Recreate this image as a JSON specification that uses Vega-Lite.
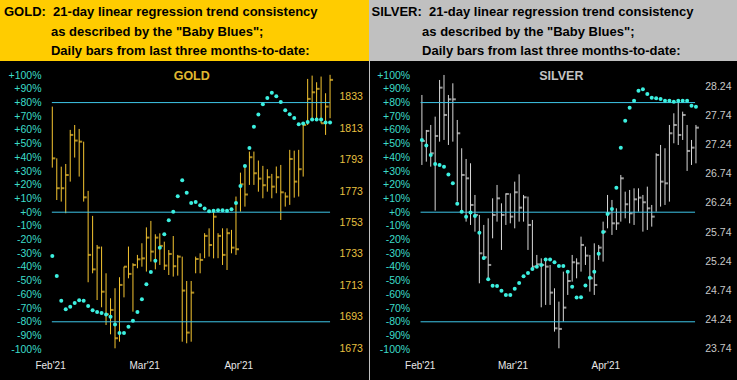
{
"$schema": "https://vega.github.io/schema/vega-lite/v6.json",
"background": "#C0C0C0",
"padding": 0,
"spacing": 1,
"config": {"view": {"stroke": null}, "axis": {"grid": false, "domain": false, "ticks": false, "labelFont": "Liberation Sans", "labelOverlap": false, "labelFlush": false}},
"datasets": {
"gold": [
{"d":0,"hi":1826.7,"lo":1787.9,"c":1793.8,"bb":-31.9},
{"d":1,"hi":1793.8,"lo":1767.3,"c":1774.8,"bb":-46.5},
{"d":2,"hi":1788.5,"lo":1766.3,"c":1774.8,"bb":-64.7},
{"d":3,"hi":1790.2,"lo":1758.9,"c":1783.2,"bb":-70.8},
{"d":4,"hi":1811.9,"lo":1779.0,"c":1808.7,"bb":-69.1},
{"d":5,"hi":1815.0,"lo":1794.3,"c":1805.1,"bb":-66.2},
{"d":6,"hi":1812.5,"lo":1782.2,"c":1804.4,"bb":-64.2},
{"d":7,"hi":1804.4,"lo":1766.3,"c":1769.0,"bb":-64.7},
{"d":8,"hi":1773.1,"lo":1715.0,"c":1732.4,"bb":-68.4},
{"d":9,"hi":1757.2,"lo":1720.7,"c":1723.2,"bb":-71.5},
{"d":10,"hi":1738.7,"lo":1703.7,"c":1737.0,"bb":-72.8},
{"d":11,"hi":1737.7,"lo":1699.1,"c":1709.0,"bb":-73.5},
{"d":12,"hi":1720.7,"lo":1687.8,"c":1694.6,"bb":-74.7},
{"d":13,"hi":1704.8,"lo":1681.9,"c":1697.4,"bb":-76.4},
{"d":14,"hi":1711.2,"lo":1673.0,"c":1679.4,"bb":-82.0},
{"d":15,"hi":1718.2,"lo":1677.2,"c":1713.3,"bb":-88.1},
{"d":16,"hi":1724.9,"lo":1705.4,"c":1724.9,"bb":-88.1},
{"d":17,"hi":1737.7,"lo":1717.5,"c":1720.3,"bb":-83.7},
{"d":18,"hi":1727.1,"lo":1696.3,"c":1726.0,"bb":-79.3},
{"d":19,"hi":1732.4,"lo":1723.9,"c":1729.6,"bb":-72.8},
{"d":20,"hi":1739.8,"lo":1724.9,"c":1730.2,"bb":-63.5},
{"d":21,"hi":1749.9,"lo":1721.8,"c":1743.4,"bb":-52.6},
{"d":22,"hi":1754.0,"lo":1728.1,"c":1734.5,"bb":-43.6},
{"d":23,"hi":1745.5,"lo":1723.2,"c":1743.4,"bb":-35.5},
{"d":24,"hi":1746.1,"lo":1726.0,"c":1738.1,"bb":-26.0},
{"d":25,"hi":1740.8,"lo":1722.8,"c":1725.6,"bb":-16.1},
{"d":26,"hi":1735.5,"lo":1719.6,"c":1733.0,"bb":-5.8},
{"d":27,"hi":1744.4,"lo":1718.6,"c":1725.2,"bb":0.3},
{"d":28,"hi":1732.4,"lo":1719.2,"c":1731.3,"bb":11.7},
{"d":29,"hi":1731.3,"lo":1677.2,"c":1709.7,"bb":23.4},
{"d":30,"hi":1715.8,"lo":1676.2,"c":1683.0,"bb":14.1},
{"d":31,"hi":1715.8,"lo":1677.2,"c":1708.4,"bb":6.8},
{"d":32,"hi":1731.3,"lo":1720.7,"c":1729.8,"bb":7.5},
{"d":33,"hi":1733.4,"lo":1720.7,"c":1729.2,"bb":5.1},
{"d":34,"hi":1746.2,"lo":1730.3,"c":1744.5,"bb":2.7},
{"d":35,"hi":1749.3,"lo":1731.3,"c":1738.7,"bb":0.7},
{"d":36,"hi":1759.9,"lo":1730.2,"c":1756.7,"bb":1.0},
{"d":37,"hi":1746.2,"lo":1730.3,"c":1744.5,"bb":1.5},
{"d":38,"hi":1749.3,"lo":1726.0,"c":1732.4,"bb":1.5},
{"d":39,"hi":1749.3,"lo":1722.8,"c":1746.2,"bb":1.0},
{"d":40,"hi":1748.3,"lo":1733.4,"c":1737.0,"bb":2.2},
{"d":41,"hi":1769.5,"lo":1732.4,"c":1736.0,"bb":6.8},
{"d":42,"hi":1784.7,"lo":1759.9,"c":1777.3,"bb":19.2},
{"d":43,"hi":1789.0,"lo":1763.1,"c":1770.8,"bb":33.8},
{"d":44,"hi":1798.1,"lo":1776.9,"c":1794.5,"bb":46.9},
{"d":45,"hi":1798.1,"lo":1776.9,"c":1784.3,"bb":62.3},
{"d":46,"hi":1792.4,"lo":1772.6,"c":1780.9,"bb":71.3},
{"d":47,"hi":1789.0,"lo":1768.4,"c":1776.7,"bb":78.8},
{"d":48,"hi":1786.9,"lo":1772.6,"c":1781.8,"bb":83.4},
{"d":49,"hi":1783.9,"lo":1768.4,"c":1775.8,"bb":87.1},
{"d":50,"hi":1788.6,"lo":1771.6,"c":1781.8,"bb":84.7},
{"d":51,"hi":1789.6,"lo":1754.6,"c":1772.2,"bb":80.5},
{"d":52,"hi":1772.2,"lo":1763.1,"c":1769.5,"bb":74.5},
{"d":53,"hi":1799.2,"lo":1764.2,"c":1793.4,"bb":71.5},
{"d":54,"hi":1798.7,"lo":1768.8,"c":1779.0,"bb":68.8},
{"d":55,"hi":1799.2,"lo":1769.5,"c":1786.9,"bb":64.2},
{"d":56,"hi":1815.7,"lo":1782.2,"c":1815.0,"bb":64.7},
{"d":57,"hi":1844.3,"lo":1815.0,"c":1831.6,"bb":65.9},
{"d":58,"hi":1846.4,"lo":1818.2,"c":1835.8,"bb":67.6},
{"d":59,"hi":1842.2,"lo":1818.2,"c":1838.0,"bb":67.6},
{"d":60,"hi":1845.8,"lo":1816.1,"c":1816.1,"bb":67.6},
{"d":61,"hi":1835.2,"lo":1808.7,"c":1826.7,"bb":65.5},
{"d":62,"hi":1846.9,"lo":1819.3,"c":1843.7,"bb":65.5}
],
"silver": [
{"d":0,"hi":28.098,"lo":26.894,"c":27.307,"bb":52.7},
{"d":1,"hi":27.496,"lo":26.951,"c":27.479,"bb":48.6},
{"d":2,"hi":27.582,"lo":26.865,"c":27.095,"bb":41.8},
{"d":3,"hi":27.725,"lo":26.108,"c":27.393,"bb":35.2},
{"d":4,"hi":28.356,"lo":27.295,"c":28.224,"bb":34.5},
{"d":5,"hi":28.442,"lo":27.324,"c":27.754,"bb":33.2},
{"d":6,"hi":28.098,"lo":27.238,"c":28.023,"bb":27.6},
{"d":7,"hi":28.299,"lo":27.295,"c":28.023,"bb":21.1},
{"d":8,"hi":27.668,"lo":26.263,"c":27.439,"bb":6.2},
{"d":9,"hi":27.181,"lo":26.091,"c":26.722,"bb":0.4},
{"d":10,"hi":26.997,"lo":25.919,"c":26.664,"bb":-3.3},
{"d":11,"hi":26.923,"lo":25.862,"c":26.206,"bb":-0.2},
{"d":12,"hi":26.378,"lo":25.747,"c":26.034,"bb":-2.8},
{"d":13,"hi":26.034,"lo":24.858,"c":25.374,"bb":-15.0},
{"d":14,"hi":25.862,"lo":25.260,"c":25.306,"bb":-33.5},
{"d":15,"hi":25.976,"lo":24.944,"c":25.174,"bb":-49.0},
{"d":16,"hi":26.320,"lo":25.632,"c":26.034,"bb":-53.7},
{"d":17,"hi":26.550,"lo":25.919,"c":26.320,"bb":-53.8},
{"d":18,"hi":26.234,"lo":25.432,"c":26.034,"bb":-57.3},
{"d":19,"hi":26.406,"lo":25.862,"c":26.395,"bb":-60.4},
{"d":20,"hi":26.406,"lo":25.890,"c":26.005,"bb":-60.4},
{"d":21,"hi":26.607,"lo":25.804,"c":26.424,"bb":-55.8},
{"d":22,"hi":26.733,"lo":25.919,"c":26.160,"bb":-51.7},
{"d":23,"hi":26.378,"lo":25.919,"c":26.338,"bb":-46.8},
{"d":24,"hi":26.349,"lo":25.432,"c":25.862,"bb":-44.4},
{"d":25,"hi":25.948,"lo":25.116,"c":25.145,"bb":-41.5},
{"d":26,"hi":25.346,"lo":25.145,"c":25.185,"bb":-39.8},
{"d":27,"hi":25.288,"lo":24.445,"c":25.174,"bb":-38.5},
{"d":28,"hi":25.288,"lo":24.486,"c":25.145,"bb":-34.6},
{"d":29,"hi":25.174,"lo":24.486,"c":24.698,"bb":-34.6},
{"d":30,"hi":24.772,"lo":24.027,"c":24.084,"bb":-36.5},
{"d":31,"hi":24.543,"lo":23.740,"c":24.073,"bb":-39.2},
{"d":32,"hi":25.059,"lo":24.199,"c":24.440,"bb":-39.2},
{"d":33,"hi":25.047,"lo":24.658,"c":24.898,"bb":-43.4},
{"d":34,"hi":25.346,"lo":24.887,"c":25.220,"bb":-54.4},
{"d":35,"hi":25.288,"lo":24.944,"c":25.202,"bb":-62.2},
{"d":36,"hi":25.661,"lo":25.059,"c":25.518,"bb":-62.0},
{"d":37,"hi":25.489,"lo":25.174,"c":25.334,"bb":-53.6},
{"d":38,"hi":25.346,"lo":24.715,"c":24.944,"bb":-47.8},
{"d":39,"hi":25.546,"lo":24.658,"c":24.830,"bb":-43.4},
{"d":40,"hi":25.518,"lo":25.260,"c":25.472,"bb":-30.3},
{"d":41,"hi":25.919,"lo":25.231,"c":25.747,"bb":-14.5},
{"d":42,"hi":26.378,"lo":25.804,"c":26.062,"bb":-1.3},
{"d":43,"hi":26.292,"lo":25.690,"c":25.890,"bb":2.3},
{"d":44,"hi":26.148,"lo":25.776,"c":25.890,"bb":17.9},
{"d":45,"hi":26.722,"lo":25.919,"c":26.664,"bb":47.1},
{"d":46,"hi":26.435,"lo":25.976,"c":26.217,"bb":66.8},
{"d":47,"hi":26.464,"lo":25.890,"c":26.062,"bb":76.3},
{"d":48,"hi":26.492,"lo":25.862,"c":26.303,"bb":81.4},
{"d":49,"hi":26.492,"lo":26.091,"c":26.332,"bb":88.7},
{"d":50,"hi":26.378,"lo":25.747,"c":26.252,"bb":89.7},
{"d":51,"hi":26.521,"lo":25.776,"c":26.148,"bb":86.3},
{"d":52,"hi":26.206,"lo":25.833,"c":26.005,"bb":83.6},
{"d":53,"hi":27.095,"lo":26.091,"c":27.066,"bb":83.1},
{"d":54,"hi":27.238,"lo":26.177,"c":26.607,"bb":82.6},
{"d":55,"hi":27.181,"lo":26.206,"c":26.578,"bb":81.4},
{"d":56,"hi":27.582,"lo":26.263,"c":27.439,"bb":81.4},
{"d":57,"hi":27.783,"lo":27.267,"c":27.582,"bb":80.7},
{"d":58,"hi":27.983,"lo":27.238,"c":27.410,"bb":81.4},
{"d":59,"hi":27.811,"lo":27.324,"c":27.754,"bb":81.4},
{"d":60,"hi":27.582,"lo":26.791,"c":27.135,"bb":81.4},
{"d":61,"hi":27.324,"lo":26.894,"c":27.192,"bb":77.7},
{"d":62,"hi":27.582,"lo":26.922,"c":27.536,"bb":77.0}
],
"levels": [{"lvl": 80}, {"lvl": 0}, {"lvl": -80}]
},
"hconcat": [
{"spacing": 0, "vconcat": [
 {"width": 369, "height": 61,
  "view": {"fill": "#FFCC00", "stroke": null},
  "data": {"values": [{}]},
  "mark": {"type": "text", "text": ""},
  "title": {"text": ["GOLD:\u00a0\u00a021-day linear regression trend consistency", "\u200b\u00a0\u00a0\u00a0\u00a0\u00a0\u00a0\u00a0\u00a0\u00a0\u00a0\u00a0\u00a0\u00a0as described by the \"Baby Blues\";", "\u200b\u00a0\u00a0\u00a0\u00a0\u00a0\u00a0\u00a0\u00a0\u00a0\u00a0\u00a0\u00a0\u00a0Daily bars from last three months-to-date:"],
   "orient": "bottom", "anchor": "start", "frame": "group", "offset": -54.65, "dx": 4,
   "font": "Liberation Sans", "fontSize": 13, "fontWeight": "bold", "color": "#000000", "lineHeight": 19.2}
 },
 {"width": 369, "height": 319,
  "view": {"fill": "#000000", "stroke": null},
  "title": {"text": "GOLD", "orient": "bottom", "anchor": "middle", "frame": "group", "offset": -309.7, "dx": 7.2, "font": "Liberation Sans", "fontSize": 12.5, "fontWeight": "bold", "color": "#E0B830"},
  "data": {"name": "gold"},
  "layer": [
     {"mark": {"type": "rule", "color": "#F5C531", "strokeWidth": 1},
      "encoding": {
       "x": {"field": "d", "type": "quantitative", "scale": {"domain": [-11.674, 70.692], "nice": false, "zero": false},
        "axis": {"orient": "bottom", "values": [-0.5, 20.5, 41.5], "labelExpr": "datum.value < 10 ? \"Feb'21\" : datum.value < 30 ? \"Mar'21\" : \"Apr'21\"", "labelPadding": -19.5, "labelFontSize": 10, "labelColor": "#E8E8E8", "labelAlign": "center", "labelBaseline": "top", "title": null}},
       "y": {"field": "lo", "type": "quantitative", "scale": {"domain": [1652.84, 1855.7], "nice": false, "zero": false},
        "axis": {"orient": "right", "values": [1673,1693,1713,1733,1753,1773,1793,1813,1833], "format": "d", "labelPadding": -30, "labelAlign": "left", "labelBaseline": "middle", "labelFontSize": 10.5, "labelColor": "#E8C040", "title": null}},
       "y2": {"field": "hi"}}},
     {"mark": {"type": "tick", "orient": "horizontal", "size": 3, "thickness": 2, "xOffset": 1.5, "color": "#F5C531"},
      "encoding": {
       "x": {"field": "d", "type": "quantitative", "scale": {"domain": [-11.674, 70.692], "nice": false, "zero": false},
        "axis": {"orient": "bottom", "values": [-0.5, 20.5, 41.5], "labelExpr": "datum.value < 10 ? \"Feb'21\" : datum.value < 30 ? \"Mar'21\" : \"Apr'21\"", "labelPadding": -19.5, "labelFontSize": 10, "labelColor": "#E8E8E8", "labelAlign": "center", "labelBaseline": "top", "title": null}},
       "y": {"field": "c", "type": "quantitative", "scale": {"domain": [1652.84, 1855.7], "nice": false, "zero": false}, "axis": null}}},
     {"data": {"name": "levels"},
      "mark": {"type": "rule", "color": "#3EC6E8", "strokeWidth": 1},
      "encoding": {
       "x": {"datum": -0.1, "type": "quantitative", "scale": {"domain": [-11.674, 70.692], "nice": false, "zero": false},
        "axis": {"orient": "bottom", "values": [-0.5, 20.5, 41.5], "labelExpr": "datum.value < 10 ? \"Feb'21\" : datum.value < 30 ? \"Mar'21\" : \"Apr'21\"", "labelPadding": -19.5, "labelFontSize": 10, "labelColor": "#E8E8E8", "labelAlign": "center", "labelBaseline": "top", "title": null}},
       "x2": {"datum": 62},
       "y": {"field": "lvl", "type": "quantitative", "scale": {"domain": [-122.49, 110.36], "nice": false, "zero": false}, "axis": null}}},
     {"mark": {"type": "circle", "size": 16, "color": "#3CF0E0", "opacity": 1},
      "encoding": {
       "x": {"field": "d", "type": "quantitative", "scale": {"domain": [-11.674, 70.692], "nice": false, "zero": false},
        "axis": {"orient": "bottom", "values": [-0.5, 20.5, 41.5], "labelExpr": "datum.value < 10 ? \"Feb'21\" : datum.value < 30 ? \"Mar'21\" : \"Apr'21\"", "labelPadding": -19.5, "labelFontSize": 10, "labelColor": "#E8E8E8", "labelAlign": "center", "labelBaseline": "top", "title": null}},
       "y": {"field": "bb", "type": "quantitative", "scale": {"domain": [-122.49, 110.36], "nice": false, "zero": false},
        "axis": {"orient": "left", "values": [-100,-90,-80,-70,-60,-50,-40,-30,-20,-10,0,10,20,30,40,50,60,70,80,90,100], "labelExpr": "(datum.value >= 0 ? '+' : '') + datum.value + '%'", "labelPadding": -41, "labelAlign": "right", "labelBaseline": "middle", "labelFontSize": 10.5, "labelColor": "#3CDCC8", "title": null}}}}
  ],
  "resolve": {"scale": {"y": "independent"}, "axis": {"y": "independent"}}
 }
]},
{"spacing": 0, "vconcat": [
 {"width": 367, "height": 61,
  "view": {"fill": "#C0C0C0", "stroke": null},
  "data": {"values": [{}]},
  "mark": {"type": "text", "text": ""},
  "title": {"text": ["SILVER:\u00a0\u00a021-day linear regression trend consistency", "\u200b\u00a0\u00a0\u00a0\u00a0\u00a0\u00a0\u00a0\u00a0\u00a0\u00a0\u00a0\u00a0\u00a0\u00a0as described by the \"Baby Blues\";", "\u200b\u00a0\u00a0\u00a0\u00a0\u00a0\u00a0\u00a0\u00a0\u00a0\u00a0\u00a0\u00a0\u00a0\u00a0Daily bars from last three months-to-date:"],
   "orient": "bottom", "anchor": "start", "frame": "group", "offset": -54.65, "dx": 1.5,
   "font": "Liberation Sans", "fontSize": 13, "fontWeight": "bold", "color": "#000000", "lineHeight": 19.2}
 },
 {"width": 367, "height": 319,
  "view": {"fill": "#000000", "stroke": null},
  "title": {"text": "SILVER", "orient": "bottom", "anchor": "middle", "frame": "group", "offset": -309.7, "dx": 7.8, "font": "Liberation Sans", "fontSize": 12.5, "fontWeight": "bold", "color": "#C4C4C4"},
  "data": {"name": "silver"},
  "layer": [
     {"mark": {"type": "rule", "color": "#D8D8D8", "strokeWidth": 1},
      "encoding": {
       "x": {"field": "d", "type": "quantitative", "scale": {"domain": [-11.742, 71.29], "nice": false, "zero": false},
        "axis": {"orient": "bottom", "values": [-0.5, 20.5, 41.5], "labelExpr": "datum.value < 10 ? \"Feb'21\" : datum.value < 30 ? \"Mar'21\" : \"Apr'21\"", "labelPadding": -19.5, "labelFontSize": 10, "labelColor": "#E8E8E8", "labelAlign": "center", "labelBaseline": "top", "title": null}},
       "y": {"field": "lo", "type": "quantitative", "scale": {"domain": [23.1947, 28.6824], "nice": false, "zero": false},
        "axis": {"orient": "right", "values": [23.74,24.24,24.74,25.24,25.74,26.24,26.74,27.24,27.74,28.24], "format": ".2f", "labelPadding": -32.3, "labelAlign": "left", "labelBaseline": "middle", "labelFontSize": 10.5, "labelColor": "#C8C8C8", "title": null}},
       "y2": {"field": "hi"}}},
     {"mark": {"type": "tick", "orient": "horizontal", "size": 3, "thickness": 2, "xOffset": 1.5, "color": "#D8D8D8"},
      "encoding": {
       "x": {"field": "d", "type": "quantitative", "scale": {"domain": [-11.742, 71.29], "nice": false, "zero": false},
        "axis": {"orient": "bottom", "values": [-0.5, 20.5, 41.5], "labelExpr": "datum.value < 10 ? \"Feb'21\" : datum.value < 30 ? \"Mar'21\" : \"Apr'21\"", "labelPadding": -19.5, "labelFontSize": 10, "labelColor": "#E8E8E8", "labelAlign": "center", "labelBaseline": "top", "title": null}},
       "y": {"field": "c", "type": "quantitative", "scale": {"domain": [23.1947, 28.6824], "nice": false, "zero": false}, "axis": null}}},
     {"data": {"name": "levels"},
      "mark": {"type": "rule", "color": "#3EC6E8", "strokeWidth": 1},
      "encoding": {
       "x": {"datum": -0.3, "type": "quantitative", "scale": {"domain": [-11.742, 71.29], "nice": false, "zero": false},
        "axis": {"orient": "bottom", "values": [-0.5, 20.5, 41.5], "labelExpr": "datum.value < 10 ? \"Feb'21\" : datum.value < 30 ? \"Mar'21\" : \"Apr'21\"", "labelPadding": -19.5, "labelFontSize": 10, "labelColor": "#E8E8E8", "labelAlign": "center", "labelBaseline": "top", "title": null}},
       "x2": {"datum": 61.8},
       "y": {"field": "lvl", "type": "quantitative", "scale": {"domain": [-122.49, 110.36], "nice": false, "zero": false}, "axis": null}}},
     {"mark": {"type": "circle", "size": 16, "color": "#3CF0E0", "opacity": 1},
      "encoding": {
       "x": {"field": "d", "type": "quantitative", "scale": {"domain": [-11.742, 71.29], "nice": false, "zero": false},
        "axis": {"orient": "bottom", "values": [-0.5, 20.5, 41.5], "labelExpr": "datum.value < 10 ? \"Feb'21\" : datum.value < 30 ? \"Mar'21\" : \"Apr'21\"", "labelPadding": -19.5, "labelFontSize": 10, "labelColor": "#E8E8E8", "labelAlign": "center", "labelBaseline": "top", "title": null}},
       "y": {"field": "bb", "type": "quantitative", "scale": {"domain": [-122.49, 110.36], "nice": false, "zero": false},
        "axis": {"orient": "left", "values": [-100,-90,-80,-70,-60,-50,-40,-30,-20,-10,0,10,20,30,40,50,60,70,80,90,100], "labelExpr": "(datum.value >= 0 ? '+' : '') + datum.value + '%'", "labelPadding": -39.7, "labelAlign": "right", "labelBaseline": "middle", "labelFontSize": 10.5, "labelColor": "#3CDCC8", "title": null}}}}
  ],
  "resolve": {"scale": {"y": "independent"}, "axis": {"y": "independent"}}
 }
]}
]
}
